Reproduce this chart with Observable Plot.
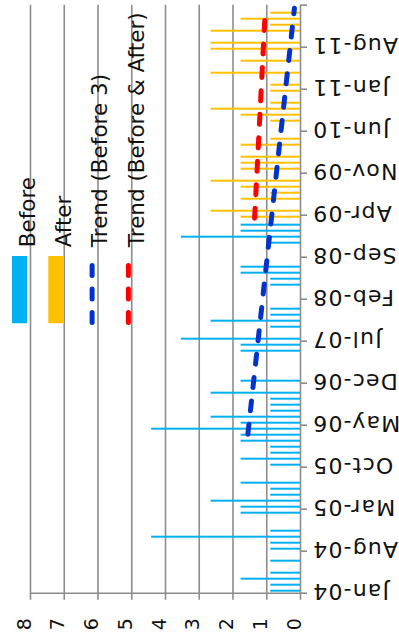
<!DOCTYPE html>
<html><head><meta charset="utf-8">
<script src="https://cdn.jsdelivr.net/npm/d3@7"></script>
<script src="https://cdn.jsdelivr.net/npm/@observablehq/plot@0.6"></script>
<style>
html,body{margin:0;padding:0;background:#fff;}
</style></head><body><div id="chart"></div>
<script>
const monthNames = ["Jan","Feb","Mar","Apr","May","Jun","Jul","Aug","Sep","Oct","Nov","Dec"];
const tickLabels = ["Jan-04","Aug-04","Mar-05","Oct-05","May-06","Dec-06","Jul-07","Feb-08","Sep-08","Apr-09","Nov-09","Jun-10","Jan-11","Aug-11"];
const axisStart = "Jan-04";
const axisEnd = "Mar-12";
const valueTicks = [0,1,2,3,4,5,6,7,8];

const beforeStart = "Jan-04";
const beforeValues = [0.88,0.88,1.76,0.88,0,0.88,0,0.88,0.88,4.41,
  0.88,0,0,1.76,1.76,2.65,0.88,0.88,1.76,0,
  0,0.88,1.76,0.88,0.88,1.76,1.76,4.41,1.76,2.65,
  0.88,0.88,0.88,2.65,0,1.76,0,0,0,0,
  1.76,1.76,3.53,0,0.88,2.65,0.88,0.88,0,0,
  0,0.88,0.88,1.76,1.76,0,0,0,0.88,3.53,
  1.76,1.76];
const afterStart = "Mar-09";
const afterValues = [1.76,2.65,0,1.76,0.88,1.76,2.65,0,1.76,1.76,
  1.76,0,1.76,0.88,0,0,0.88,1.76,2.65,0.88,
  0,0.88,0.88,0,2.65,0,1.76,0,2.65,2.65,
  0,2.65,0.88,1.76,0.88];

const trendBefore3Months = ["Mar-06","Feb-12"];
const trendBefore3Values = [1.56, 0.18];
const trendAllMonths = ["Mar-09","Jan-12"];
const trendAllValues = [1.36, 1.05];

const legendLabels = ["Before","After","Trend (Before 3)","Trend (Before & After)"];
const legendKinds = ["bar","bar","line","line"];
const legendColors = ["#00B0F0","#FFC000","#0033CC","#FF0000"];

function monthIndex(s){
  const [m,y] = s.split("-");
  const [m0,y0] = axisStart.split("-");
  return (+y - +y0)*12 + monthNames.indexOf(m) - monthNames.indexOf(m0);
}

const beforeData = beforeValues.map((v,k)=>({i: monthIndex(beforeStart)+k, v}));
const afterData = afterValues.map((v,k)=>({i: monthIndex(afterStart)+k, v}));
const trendB = trendBefore3Months.map((m,k)=>({i: monthIndex(m), v: trendBefore3Values[k]}));
const trendA = trendAllMonths.map((m,k)=>({i: monthIndex(m), v: trendAllValues[k]}));
const catTicks = tickLabels.map(monthIndex).concat([monthIndex(axisEnd)]);

const W = 399, H = 644;
const mL = 30, mR = 99, mT = 4.7, mB = 51.3;
const grid = "#8c8c8c";
const dash = "10 13.5";

const legendMarks = [];
legendLabels.forEach((lab, k) => {
  const cx = 19 + k*36.3;
  legendMarks.push(Plot.text([lab], {frameAnchor: "top-left", text: d=>d, rotate: -90, textAnchor: "start",
    dx: cx - mL, dy: 242, fontSize: 21.5, fill: "#111"}));
  if (legendKinds[k] === "bar") {
    legendMarks.push(Plot.ruleX([0], {dx: cx - (W - mR), stroke: legendColors[k], strokeWidth: 15,
      insetTop: 251.3, insetBottom: 269.4}));
  } else {
    legendMarks.push(Plot.ruleX([0], {dx: cx - (W - mR), stroke: legendColors[k], strokeWidth: 5,
      strokeDasharray: dash, strokeLinecap: "round", insetTop: 260.8, insetBottom: 270.2}));
  }
});

const chart = Plot.plot({
  width: W, height: H,
  marginLeft: mL, marginRight: mR, marginTop: mT, marginBottom: mB,
  x: {domain: [0, 8], reverse: true, axis: null},
  y: {domain: [0, monthIndex(axisEnd)], axis: null},
  style: {background: "#fff", fontFamily: "DejaVu Sans", overflow: "visible"},
  marks: [
    Plot.ruleX(valueTicks, {x: d=>d, stroke: grid, strokeWidth: 1.6, insetBottom: -7}),
    Plot.ruleY([0], {stroke: grid, strokeWidth: 1.6}),
    Plot.ruleY(catTicks, {y: d=>d, stroke: grid, strokeWidth: 1.6, insetLeft: W - mL - mR, insetRight: -7}),
    Plot.rect(beforeData.filter(d=>d.v>0), {x1: 0, x2: "v", y1: d=>d.i+0.17, y2: d=>d.i+0.5, fill: "#00B0F0"}),
    Plot.rect(afterData.filter(d=>d.v>0), {x1: 0, x2: "v", y1: d=>d.i+0.5, y2: d=>d.i+0.83, fill: "#FFC000"}),
    ...legendMarks,
    Plot.line(trendA, {x: "v", y: d=>d.i+0.5, stroke: "#FF0000", strokeWidth: 5, strokeDasharray: dash, strokeLinecap: "round"}),
    Plot.line(trendB, {x: "v", y: d=>d.i+0.5, stroke: "#0033CC", strokeWidth: 5, strokeDasharray: dash, strokeLinecap: "round"}),
    Plot.text(tickLabels, {y: d=>monthIndex(d), text: d=>d, frameAnchor: "right", rotate: 180, textAnchor: "end",
      dx: 11.5, dy: -2.5, fontSize: 22, fill: "#111"}),
    Plot.text(valueTicks, {x: d=>d, text: d=>String(d), frameAnchor: "bottom", rotate: -90, textAnchor: "middle",
      dy: 31, fontSize: 19, fill: "#111"})
  ]
});
d3.select(chart).selectAll("text").filter(function(){ return tickLabels.includes(this.textContent); })
  .style("letter-spacing", "1.2px");
document.getElementById("chart").appendChild(chart);
</script></body></html>
